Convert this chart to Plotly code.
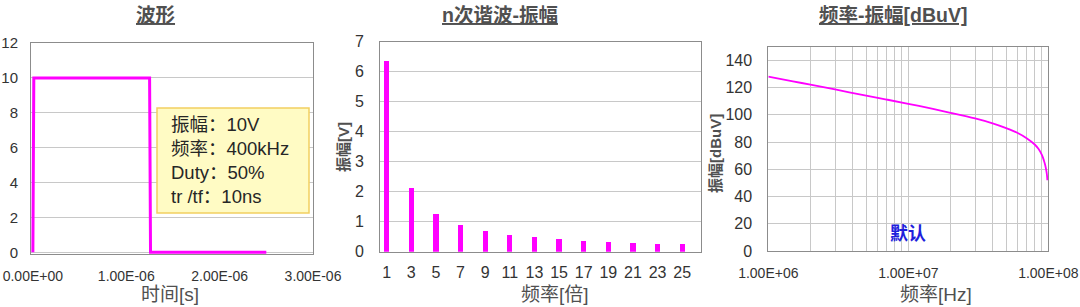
import plotly.graph_objects as go

# --- waveform: 10 V square wave, 400 kHz, 50 % duty, 10 ns edges ---
wave_t = [0.0, 1.0e-8, 1.25e-6, 1.26e-6, 2.5e-6]
wave_v = [0, 10, 10, 0, 0]
wave_xticks = [0.0, 1e-6, 2e-6, 3e-6]
wave_xlabels = ["0.00E+00", "1.00E-06", "2.00E-06", "3.00E-06"]
wave_yticks = [0, 2, 4, 6, 8, 10, 12]
info_lines = ["振幅：10V", "频率：400kHz", "Duty：50%", "tr /tf：10ns"]

# --- odd harmonic amplitudes ---
harm_n = [1, 3, 5, 7, 9, 11, 13, 15, 17, 19, 21, 23, 25]
harm_amp = [6.37, 2.12, 1.27, 0.91, 0.71, 0.58, 0.49, 0.42, 0.38, 0.34, 0.30, 0.28, 0.26]
harm_yticks = [0, 1, 2, 3, 4, 5, 6, 7]

# --- spectrum envelope in dBuV ---
spec_f = [1e6, 1.5e6, 2e6, 3e6, 5e6, 7e6, 1e7, 1.5e7, 2e7, 3e7, 4e7, 5e7,
          6e7, 7e7, 8e7, 8.5e7, 9e7, 9.3e7, 9.5e7, 9.7e7, 9.8e7, 9.85e7]
spec_db = [128.1, 124.6, 122.1, 118.6, 114.1, 111.2, 108.1, 104.3, 101.5, 97.3,
           93.7, 90.2, 86.8, 82.8, 78.2, 75.0, 70.5, 66.5, 63.2, 58.5, 55.0, 52.0]
spec_xticks = [m * 10 ** e for e in (6, 7) for m in range(1, 10)] + [1e8]
spec_xlabels = [("1.00E+0%d" % e if m == 1 else "") for e in (6, 7) for m in range(1, 10)] + ["1.00E+08"]
spec_yticks = [0, 20, 40, 60, 80, 100, 120, 140]

MAGENTA = "#FF00FF"
TXT = "#333333"
GRID = "#C8C8C8"
BORDER = "#8C8C8C"
FONT = "Liberation Sans, Noto Sans CJK SC, sans-serif"
CJK = "Noto Sans CJK SC, sans-serif"

W, H = 1080, 307


def px(x):
    return x / W


def py(y):
    return 1 - y / H


fig = go.Figure()

fig.add_trace(go.Scatter(x=wave_t, y=wave_v, mode="lines",
                         line=dict(color=MAGENTA, width=3),
                         xaxis="x", yaxis="y", showlegend=False))
fig.add_trace(go.Bar(x=harm_n, y=harm_amp, width=0.42, marker=dict(color=MAGENTA, line=dict(width=0)),
                     xaxis="x2", yaxis="y2", showlegend=False))
fig.add_trace(go.Scatter(x=spec_f, y=spec_db, mode="lines",
                         line=dict(color=MAGENTA, width=1.8, shape="spline"),
                         xaxis="x3", yaxis="y3", showlegend=False))

axis_common = dict(showline=True, linecolor=BORDER, linewidth=1, mirror=True, automargin=False,
                   ticks="", zeroline=False, tickfont=dict(family=FONT, size=15, color=TXT))

fig.update_layout(
    width=W, height=H,
    margin=dict(l=0, r=0, t=0, b=0),
    paper_bgcolor="white", plot_bgcolor="white",
    bargap=0,
    xaxis=dict(axis_common, domain=[px(31), px(313)], range=[-0.02e-6, 3e-6],
               tickvals=wave_xticks, ticktext=wave_xlabels, showgrid=False,
               ticklabelstandoff=9, tickfont=dict(family=FONT, size=14, color=TXT), anchor="y"),
    yaxis=dict(axis_common, domain=[py(254), py(43)], range=[-0.1, 12],
               tickvals=wave_yticks, showgrid=True, gridcolor=GRID,
               ticklabelstandoff=9, anchor="x"),
    xaxis2=dict(axis_common, domain=[px(380), px(700.7)], range=[0.46, 26.5],
                tickvals=harm_n, showgrid=False, ticklabelstandoff=6,
                tickfont=dict(family=FONT, size=16, color=TXT), anchor="y2"),
    yaxis2=dict(axis_common, domain=[py(251.7), py(41.7)], range=[0, 7],
                tickvals=harm_yticks, showgrid=True, gridcolor=GRID,
                ticklabelstandoff=12, tickfont=dict(family=FONT, size=16, color=TXT), anchor="x2"),
    xaxis3=dict(axis_common, type="log", domain=[px(768.3), px(1048.3)], range=[6, 8],
                tickvals=spec_xticks, ticktext=spec_xlabels, showgrid=True, gridcolor=GRID,
                ticklabelstandoff=9, tickfont=dict(family=FONT, size=14, color=TXT), anchor="y3"),
    yaxis3=dict(axis_common, domain=[py(251), py(46.7)], range=[0, 150],
                tickvals=spec_yticks, showgrid=True, gridcolor=GRID,
                ticklabelstandoff=12, tickfont=dict(family=FONT, size=16, color=TXT), anchor="x3"),
)

# parameter box on the waveform plot
fig.add_shape(type="rect", xref="paper", yref="paper",
              x0=px(157), x1=px(309), y0=py(213), y1=py(108),
              fillcolor="#FFFBC4", line=dict(color="#F2D060", width=1.5))
fig.add_annotation(xref="paper", yref="paper", x=px(169), y=py(160),
                   xanchor="left", yanchor="middle", align="left", showarrow=False,
                   text="<br>".join(info_lines),
                   font=dict(family=FONT, size=18.5, color="#262626"))

# panel titles
titles = [("<u><b>波形</b></u>", 155), ("<u><b>n次谐波-振幅</b></u>", 500), ("<u><b>频率-振幅[dBuV]</b></u>", 893)]
for txt, cx in titles:
    fig.add_annotation(xref="paper", yref="paper", x=px(cx), y=py(15),
                       xanchor="center", yanchor="middle", showarrow=False, text=txt,
                       font=dict(family=FONT, size=19.5, color="#505050"))

# axis titles
xtitles = [("时间[s]", 170), ("频率[倍]", 555), ("频率[Hz]", 936)]
for txt, cx in xtitles:
    fig.add_annotation(xref="paper", yref="paper", x=px(cx), y=py(294),
                       xanchor="center", yanchor="middle", showarrow=False, text=txt,
                       font=dict(family=FONT, size=19, color="#505050"))

ytitles = [("<b>振幅[V]</b>", 343, 147), ("<b>振幅[dBuV]</b>", 715, 154)]
for txt, cx, cy in ytitles:
    fig.add_annotation(xref="paper", yref="paper", x=px(cx), y=py(cy), textangle=-90,
                       xanchor="center", yanchor="middle", showarrow=False, text=txt,
                       font=dict(family=FONT, size=15, color="#505050"))

fig.add_annotation(xref="paper", yref="paper", x=px(908), y=py(232),
                   xanchor="center", yanchor="middle", showarrow=False, text="<b>默认</b>",
                   font=dict(family=CJK, size=18, color="#1E1EDC"))

fig.write_html("out.html")
